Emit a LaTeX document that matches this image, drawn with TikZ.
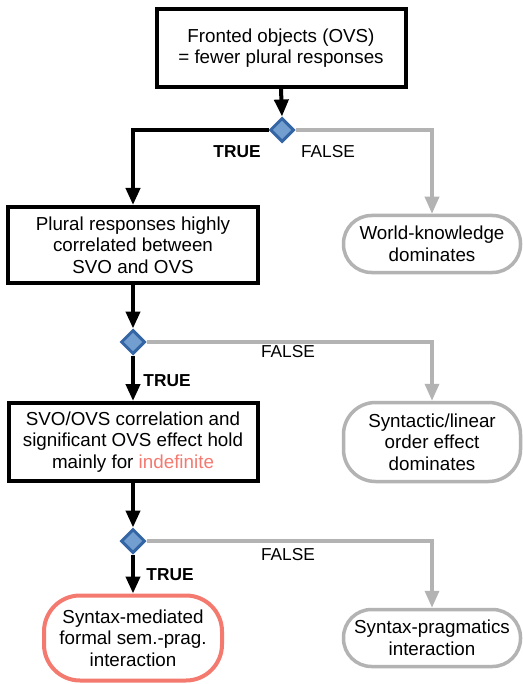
\documentclass[tikz,border=0pt]{standalone}
\usepackage{fontspec}
\setmainfont{Liberation Sans}
\usetikzlibrary{shapes.geometric,arrows.meta}
\definecolor{lineblue}{HTML}{3465A4}
\definecolor{fillblue}{HTML}{729FCF}
\definecolor{falsegray}{HTML}{B3B3B3}
\definecolor{salmon}{HTML}{F47A70}

\begin{document}
\begin{tikzpicture}[x=1pt,y=-1pt,
  every node/.style={font=\fontsize{18.8}{21.7}\selectfont, align=center},
  claim/.style={draw=black, line width=4pt, fill=white, inner sep=0pt},
  outcome/.style={draw=falsegray, line width=3.5pt, fill=white, rounded corners=28pt, inner sep=0pt},
  decision/.style={diamond, draw=lineblue, fill=fillblue, line width=3pt, minimum size=24pt, inner sep=0pt},
  yes/.style={draw=black, line width=4pt, -{Triangle[width=14pt,length=17pt]}},
  no/.style={draw=falsegray, line width=3.5pt, -{Triangle[width=14pt,length=17pt]}},
  tag/.style={font=\fontsize{17.3}{19}\selectfont},
  truetag/.style={font=\fontsize{17.3}{19}\selectfont\bfseries}]
\useasboundingbox (0,0) rectangle (522,684);

% claims on the left
\node[claim, minimum width=249pt, minimum height=78pt] (front) at (281,48) {Fronted objects (OVS)\\= fewer plural responses};
\node[claim, minimum width=250pt, minimum height=76pt] (corr) at (133,245) {Plural responses highly\\correlated between\\SVO and OVS};
\node[claim, minimum width=249pt, minimum height=78pt] (indef) at (133,442) {SVO/OVS correlation and\\significant OVS effect hold\\mainly for \textcolor{salmon}{indefinite}};
\node[outcome, draw=salmon, line width=4pt, rounded corners=36pt, minimum width=178pt, minimum height=85pt] (mediated) at (133,638) {Syntax-mediated\\formal sem.-prag.\\interaction};

% outcomes on the right
\node[outcome, minimum width=177pt, minimum height=57pt] (world) at (432,244) {World-knowledge\\dominates};
\node[outcome, rounded corners=32pt, minimum width=177pt, minimum height=79pt] (linear) at (432,442) {Syntactic/linear\\order effect\\dominates};
\node[outcome, minimum width=177pt, minimum height=57pt] (pragm) at (432,638) {Syntax-pragmatics\\interaction};

% decisions
\node[decision] (d1) at (282,130) {};
\node[decision] (d2) at (133,342) {};
\node[decision] (d3) at (133,541) {};

% labels
\node[truetag] (t1) at (237,152) {TRUE};
\node[tag] (f1) at (328,152) {FALSE};
\node[truetag] (t2) at (167,381) {TRUE};
\node[tag] (f2) at (288,352) {FALSE};
\node[truetag] (t3) at (170,575) {TRUE};
\node[tag] (f3) at (288,555) {FALSE};

% connectors
\draw[no] (d1.east) -| (world.north);
\draw[no] (d2.east) -| (linear.north);
\draw[no] (d3.east) -| (pragm.north);
\draw[yes] (front.south) -- (d1.north);
\draw[yes] (d1.west) -| (corr.north);
\draw[yes] (corr.south) -- (d2.north);
\draw[yes] (d2.south) -- (indef.north);
\draw[yes] (indef.south) -- (d3.north);
\draw[yes] (d3.south) -- (mediated.north);
\end{tikzpicture}
\end{document}
